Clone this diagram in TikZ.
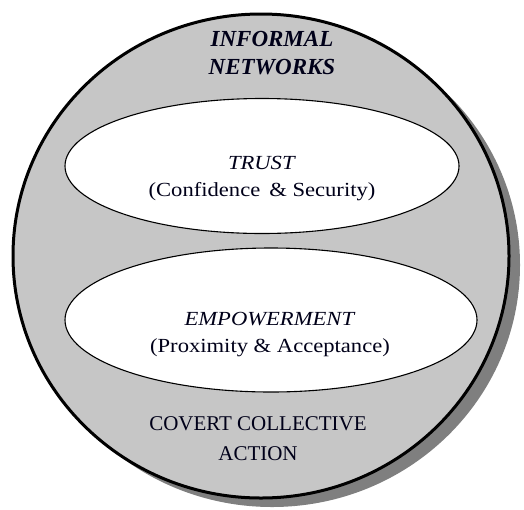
\documentclass[tikz,border=0pt]{standalone}
\usepackage{fontspec}
\setmainfont{Liberation Serif}
\newfontfamily\widefont[FakeStretch=1.13]{Liberation Serif}
\usetikzlibrary{shapes.geometric}
\definecolor{ringfill}{HTML}{C6C6C6}
\definecolor{shadowgray}{HTML}{7F7F7F}
\tikzset{
  outerring/.style={ellipse, draw=black, line width=3pt, fill=ringfill, minimum width=496pt, minimum height=484pt, inner sep=0pt},
  ringshadow/.style={ellipse, fill=shadowgray, minimum width=496pt, minimum height=484pt, inner sep=0pt},
  innerellipse/.style={ellipse, draw=black, line width=1.1pt, fill=white, inner sep=0pt},
  label/.style={align=center, font=\widefont\fontsize{20}{27}\selectfont, text=black!90!blue}
}
\begin{document}
\begin{tikzpicture}[x=1pt,y=1pt]
\useasboundingbox (0,0) rectangle (524,-509);
\node[ringshadow] (shadow) at (272,-265) {};
\node[outerring] (ring) at (261,-256) {};
\node[innerellipse, minimum width=394pt, minimum height=135pt] (trust) at (262,-166) {};
\node[innerellipse, minimum width=412pt, minimum height=144pt] (emp) at (271,-320) {};
\node[label, font=\fontsize{23}{28}\selectfont\bfseries\itshape] (inf) at (272,-53) {INFORMAL\\NETWORKS};
\node[label] (trusttxt) at (262,-179) {\textit{TRUST}\\(Confidence \,\& Security)};
\node[label] (emptxt) at (270,-335) {\textit{EMPOWERMENT}\\(Proximity \& Acceptance)};
\node[label, font=\fontsize{21}{30}\selectfont] (cov) at (258,-439) {COVERT COLLECTIVE\\ACTION};
\end{tikzpicture}
\end{document}
